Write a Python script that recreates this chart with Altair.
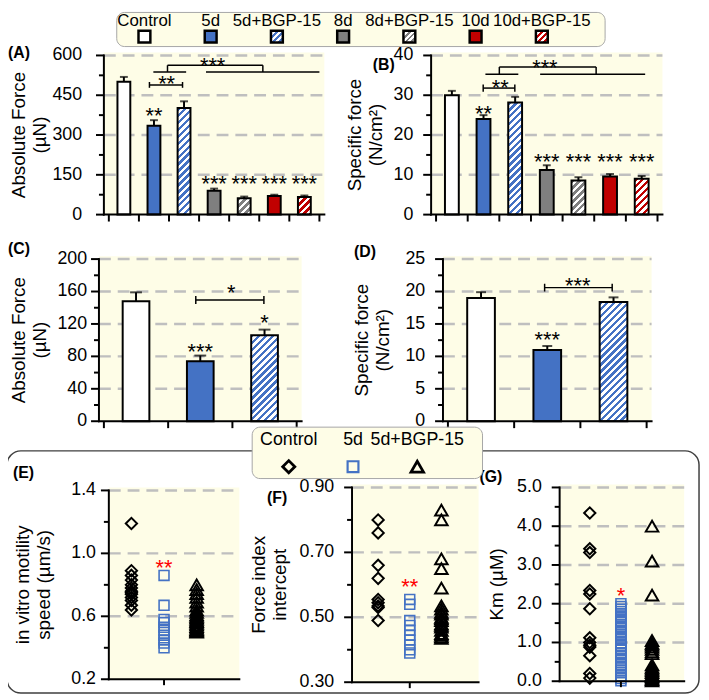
import math
import altair as alt
import pandas as pd

# ---------------- values ----------------
groups_7 = ["Control", "5d", "5d+BGP-15", "8d", "8d+BGP-15", "10d", "10d+BGP-15"]
abs_force_7 = [501, 335, 402, 90, 62, 70, 66]
abs_force_7_sem = [18, 21, 25, 8, 6, 5, 6]
spec_force_7 = [30.0, 24.0, 28.2, 11.2, 8.6, 9.6, 9.0]
spec_force_7_sem = [1.1, 1.0, 1.4, 1.2, 0.8, 0.6, 0.7]

groups_3 = ["Control", "5d", "5d+BGP-15"]
abs_force_3 = [148, 74, 106]
abs_force_3_sem = [11, 7, 7]
spec_force_3 = [19.0, 11.0, 18.4]
spec_force_3_sem = [0.9, 0.6, 0.7]

motility_control = [1.19, 0.89, 0.86, 0.83, 0.80, 0.78, 0.76, 0.75, 0.74, 0.72, 0.70, 0.67, 0.64]
motility_5d = [0.86, 0.67, 0.58, 0.56, 0.53, 0.51, 0.48, 0.45, 0.43, 0.40]
motility_bgp = [0.80, 0.77, 0.745, 0.72, 0.69, 0.665, 0.64, 0.625, 0.61, 0.60, 0.59, 0.58,
                0.57, 0.565, 0.555, 0.545, 0.535, 0.525, 0.515, 0.51, 0.505, 0.50]

force_index_control = [0.80, 0.76, 0.66, 0.62, 0.555, 0.545, 0.535, 0.53, 0.49]
force_index_5d = [0.555, 0.54, 0.49, 0.475, 0.46, 0.445, 0.43, 0.415, 0.40, 0.39]
force_index_bgp = [0.83, 0.80, 0.68, 0.65, 0.59, 0.535, 0.525, 0.515, 0.51, 0.50, 0.495,
                   0.49, 0.48, 0.475, 0.47, 0.46, 0.45, 0.445, 0.44, 0.435]

km_control = [4.34, 3.42, 3.32, 2.34, 2.25, 1.87, 1.12, 1.00, 0.93, 0.88, 0.66, 0.20, 0.08]
km_5d = [2.00, 1.93, 1.86, 1.80, 1.71, 1.64, 1.57, 1.51, 1.42, 1.36, 1.28, 1.21, 1.14, 1.07,
         0.99, 0.92, 0.85, 0.80, 0.71, 0.64, 0.57, 0.49, 0.43, 0.35, 0.28, 0.22, 0.14, 0.07, 0.01]
km_bgp = [4.00, 3.10, 2.22, 1.05, 0.98, 0.93, 0.88, 0.82, 0.76, 0.71, 0.42, 0.36, 0.31, 0.27,
          0.22, 0.17, 0.12, 0.08, 0.04, 0.01]

# significance labels above bars: (group, text, height of the star centre)
stars_A = [("5d", "**", 393), ("8d", "***", 136), ("8d+BGP-15", "***", 136),
           ("10d", "***", 136), ("10d+BGP-15", "***", 136)]
stars_B = [("5d", "**", 26.8), ("8d", "***", 14.8), ("8d+BGP-15", "***", 14.8),
           ("10d", "***", 14.8), ("10d+BGP-15", "***", 14.8)]
stars_C = [("5d", "***", 92), ("5d+BGP-15", "*", 128)]
stars_D = [("5d", "***", 13.5)]

# comparison brackets: (from, to, y from, y to), x in category slots (1 slot per group)
brackets_A = [(1.35, 2.45, 489, 489), (1.35, 1.35, 478, 500), (2.45, 2.45, 478, 500),
              (1.95, 5.12, 563, 563), (1.95, 1.95, 538, 563), (5.12, 5.12, 538, 563),
              (1.48, 2.57, 538, 538), (3.23, 7.0, 538, 538)]
bracket_text_A = [(1.92, 514, "**"), (3.45, 582, "***")]
brackets_B = [(1.49, 2.49, 31.8, 31.8), (1.49, 1.49, 30.9, 32.7), (2.49, 2.49, 30.9, 32.7),
              (2.0, 5.06, 37.1, 37.1), (2.0, 2.0, 35.3, 37.1), (5.06, 5.06, 35.3, 37.1),
              (1.56, 2.6, 35.3, 35.3), (3.29, 6.61, 35.3, 35.3)]
bracket_text_B = [(2.03, 33.3, "**"), (3.44, 38.4, "***")]
brackets_C = [(1.43, 2.49, 149.6, 149.6), (1.43, 1.43, 144.5, 154.5), (2.49, 2.49, 144.5, 154.5)]
bracket_text_C = [(1.98, 165, "*")]
brackets_D = [(1.46, 2.48, 20.6, 20.6), (1.46, 1.46, 20.0, 21.2), (2.48, 2.48, 20.0, 21.2)]
bracket_text_D = [(1.96, 21.8, "***")]

star_E = ("5d", "**", 0.945)
star_F = ("5d", "**", 0.61)
star_G = ("5d", "*", 2.36)

# ---------------- styling ----------------
FONT = "Liberation Sans"
BLUE = "#4472C4"
GRAY = "#7F7F7F"
RED = "#C00000"
CREAM = "#FEFDE7"
GRID = "#BFBFBF"
W, H = 701, 692
STAR_FS = 22
STAR_DY = 13
TITLE_LH = 21

fills_7 = ["white", BLUE, BLUE, GRAY, GRAY, RED, RED]
hatch_7 = [False, False, True, False, True, False, True]
fills_3 = ["white", BLUE, BLUE]
hatch_3 = [False, False, True]


def px(v):
    """reference page pixel -> chart pixel (page has an 8px margin)"""
    return v - 8


def hatch(color, w, h, period=7.0):
    L = w + h
    k = L / (w * w + h * h)
    stops = []
    pos = 0.0
    while pos < L - 1e-9:
        a = round(pos / L, 5)
        b = round(min((pos + period / 2) / L, 1.0), 5)
        c = round(min((pos + period) / L, 1.0), 5)
        stops += [alt.GradientStop(offset=a, color=color), alt.GradientStop(offset=b, color=color),
                  alt.GradientStop(offset=b, color="white"), alt.GradientStop(offset=c, color="white")]
        pos += period
    return alt.LinearGradient(gradient="linear", stops=stops, x1=0, y1=0,
                              x2=round(k * w, 5), y2=round(k * h, 5))


def one(**kw):
    return pd.DataFrame({"k": [0], **{a: [b] for a, b in kw.items()}})


def y_axis_layers(x0, yt, yb, ysc, majors, minors, fmt, title, title_edge, label_gap):
    ax = px(x0)

    def Yf(f):
        return alt.Y(f, type="quantitative", scale=ysc, axis=None)

    maj = alt.Chart(pd.DataFrame({"v": majors})).mark_rule(color="black", strokeWidth=2).encode(
        x=alt.value(ax - 8), x2=alt.value(ax), y=Yf("v"))
    mnr = alt.Chart(pd.DataFrame({"v": minors})).mark_rule(color="black", strokeWidth=2).encode(
        x=alt.value(ax - 5), x2=alt.value(ax), y=Yf("v"))
    labels = alt.Chart(pd.DataFrame({"v": majors})).mark_text(
        align="right", baseline="middle", fontSize=18, color="black").encode(
        x=alt.value(ax - label_gap), y=Yf("v"), text=alt.Text("v:Q", format=fmt))
    dom = alt.Chart(one()).mark_rule(color="black", strokeWidth=2, strokeCap="square").encode(
        x=alt.value(ax), y=alt.value(px(yt)), y2=alt.value(px(yb)))
    lines = title if isinstance(title, list) else [title]
    ttl = alt.Chart(one()).mark_text(angle=270, fontSize=19, lineHeight=TITLE_LH,
                                     baseline="bottom", align="center", color="black",
                                     text=lines).encode(
        x=alt.value(px(title_edge) - TITLE_LH * (len(lines) - 1)),
        y=alt.value(px((yt + yb) / 2)))
    return [maj, mnr, labels, dom, ttl]


def x_domain(x0, x1, yb):
    return alt.Chart(one()).mark_rule(color="black", strokeWidth=2, strokeCap="square").encode(
        x=alt.value(px(x0)), x2=alt.value(px(x1)), y=alt.value(px(yb)))


def decor(x0, x1, yt, yb, ysc, grid_vals, tag, tag_pos):
    bg = alt.Chart(one()).mark_rect(fill=CREAM).encode(
        x=alt.value(px(x0)), x2=alt.value(px(x1)), y=alt.value(px(yt) - 3), y2=alt.value(px(yb)))
    grid = alt.Chart(pd.DataFrame({"g": grid_vals})).mark_rule(
        stroke=GRID, strokeWidth=2.5, strokeDash=[12, 7]).encode(
        x=alt.value(px(x0)), x2=alt.value(px(x1)),
        y=alt.Y("g:Q", scale=ysc, axis=None))
    lab = alt.Chart(one(t=tag)).mark_text(
        fontWeight="bold", fontSize=16, align="left", baseline="middle", color="black").encode(
        x=alt.value(tag_pos[0]), y=alt.value(tag_pos[1]), text="t:N")
    return bg, grid, lab


def bar_panel(cats, vals, sems, fills, hatched, geo, ymax, majors, minors, grid_vals,
              title, title_edge, label_gap, bar_w, cap_w, stars, segs, seg_text, tag, tag_pos):
    x0, x1, yt, yb = geo
    n = len(cats)
    xsc = alt.Scale(domain=[0, n], range=[px(x0), px(x1)], nice=False, zero=False)
    ysc = alt.Scale(domain=[0, ymax], range=[px(yb), px(yt)], nice=False, zero=False)
    slot = {c: i + 0.5 for i, c in enumerate(cats)}
    df = pd.DataFrame({"group": cats, "slot": [slot[c] for c in cats], "value": vals,
                       "top": [v + e for v, e in zip(vals, sems)], "fill": fills, "hatched": hatched})

    def X(f):
        return alt.X(f, type="quantitative", scale=xsc, axis=None)

    def Y(f):
        return alt.Y(f, type="quantitative", scale=ysc, axis=None)

    bg, grid, lab = decor(x0, x1, yt, yb, ysc, grid_vals, tag, tag_pos)
    layers = [bg, grid]
    layers.append(alt.Chart(df[~df.hatched]).mark_bar(
        size=bar_w, orient="vertical", stroke="black", strokeWidth=2).encode(
        x=X("slot"), y=Y("value"), fill=alt.Fill("fill:N", scale=None)))
    ppu = (yb - yt) / ymax
    for _, r in df[df.hatched].iterrows():
        layers.append(alt.Chart(pd.DataFrame([r])).mark_bar(
            size=bar_w, orient="vertical", stroke="black", strokeWidth=2,
            fill=hatch(r["fill"], bar_w, r["value"] * ppu)).encode(x=X("slot"), y=Y("value")))
    layers.append(alt.Chart(df).mark_rule(color="black", strokeWidth=2).encode(
        x=X("slot"), y=Y("value"), y2="top:Q"))
    layers.append(alt.Chart(df).mark_tick(orient="horizontal", size=cap_w, thickness=2,
                                          color="black").encode(x=X("slot"), y=Y("top")))
    sdf = pd.DataFrame({"slot": [slot[g] for g, _, _ in stars], "t": [t for _, t, _ in stars],
                        "y": [y for _, _, y in stars]})
    layers.append(alt.Chart(sdf).mark_text(fontSize=STAR_FS, baseline="alphabetic", dy=STAR_DY,
                                           color="black").encode(x=X("slot"), y=Y("y"), text="t:N"))
    bdf = pd.DataFrame(segs, columns=["a", "b", "c", "d"])
    layers.append(alt.Chart(bdf).mark_rule(color="black", strokeWidth=1.5).encode(
        x=X("a"), x2="b:Q", y=Y("c"), y2="d:Q"))
    tdf = pd.DataFrame(seg_text, columns=["a", "y", "t"])
    layers.append(alt.Chart(tdf).mark_text(fontSize=STAR_FS, baseline="alphabetic", dy=STAR_DY,
                                           color="black").encode(x=X("a"), y=Y("y"), text="t:N"))
    # axes
    layers += y_axis_layers(x0, yt, yb, ysc, majors, minors, "d", title, title_edge, label_gap)
    layers.append(alt.Chart(pd.DataFrame({"t": list(range(n + 1))})).mark_rule(
        color="black", strokeWidth=2).encode(x=X("t"), y=alt.value(px(yb)),
                                             y2=alt.value(px(yb) + 7)))
    layers.append(x_domain(x0, x1, yb))
    layers.append(lab)
    return alt.layer(*layers)


def scatter_panel(series, geo, ydom, majors, minors, grid_vals, fmt, title, title_edge,
                  label_gap, xpad, xalign, star, tag, tag_pos):
    x0, x1, yt, yb = geo
    xsc = alt.Scale(type="point", domain=groups_3, range=[px(x0), px(x1)], padding=xpad,
                    align=xalign)
    ysc = alt.Scale(domain=ydom, range=[px(yb), px(yt)], nice=False, zero=False)

    def X(f):
        return alt.X(f, type="nominal", scale=xsc, axis=None)

    def Y(f):
        return alt.Y(f, type="quantitative", scale=ysc, axis=None)

    bg, grid, lab = decor(x0, x1, yt, yb, ysc, grid_vals, tag, tag_pos)
    layers = [bg, grid]
    for g, vals, shape, size, color, sw in series:
        d = pd.DataFrame({"g": [g] * len(vals), "v": vals})
        layers.append(alt.Chart(d).mark_point(shape=shape, size=size, filled=False, color=color,
                                              strokeWidth=sw, opacity=1).encode(
            x=X("g"), y=Y("v")))
    sd = pd.DataFrame({"g": [star[0]], "t": [star[1]], "v": [star[2]]})
    layers.append(alt.Chart(sd).mark_text(fontSize=STAR_FS, baseline="alphabetic", dy=STAR_DY,
                                          color="#FF0000").encode(x=X("g"), y=Y("v"), text="t:N"))
    layers += y_axis_layers(x0, yt, yb, ysc, majors, minors, fmt, title, title_edge, label_gap)
    layers.append(alt.Chart(pd.DataFrame({"g": ["5d"]})).mark_rule(
        color="black", strokeWidth=2).encode(x=X("g"), y=alt.value(px(yb)),
                                             y2=alt.value(px(yb) + 6)))
    layers.append(x_domain(x0, x1, yb))
    layers.append(lab)
    return alt.layer(*layers)


panel_A = bar_panel(groups_7, abs_force_7, abs_force_7_sem, fills_7, hatch_7,
                    (105, 328, 52, 213), 600, [0, 150, 300, 450, 600], [75, 225, 375, 525],
                    [150, 300, 450, 600], ["Absolute Force", "(µN)"], 50, 22, 13, 8,
                    stars_A, brackets_A, bracket_text_A, "(A)", (0, 42))
panel_B = bar_panel(groups_7, spec_force_7, spec_force_7_sem, fills_7, hatch_7,
                    (436, 670, 52, 213), 40, [0, 10, 20, 30, 40], [5, 15, 25, 35],
                    [10, 20, 30, 40], ["Specific force", "(N/cm²)"], 390, 18, 14, 8,
                    stars_B, brackets_B, bracket_text_B, "(B)", (369, 54))
panel_C = bar_panel(groups_3, abs_force_3, abs_force_3_sem, fills_3, hatch_3,
                    (100, 305, 258, 422), 200, [0, 40, 80, 120, 160, 200],
                    [20, 60, 100, 140, 180], [40, 80, 120, 160, 200],
                    ["Absolute Force", "(µN)"], 50, 12, 27, 12,
                    stars_C, brackets_C, bracket_text_C, "(C)", (0, 240))
panel_D = bar_panel(groups_3, spec_force_3, spec_force_3_sem, fills_3, hatch_3,
                    (448, 659, 258, 422), 25, [0, 5, 10, 15, 20, 25],
                    [2.5, 7.5, 12.5, 17.5, 22.5], [5, 10, 15, 20, 25],
                    ["Specific force", "(N/cm²)"], 397, 18, 28, 10,
                    stars_D, brackets_D, bracket_text_D, "(D)", (350, 243))


def series(c, d5, bgp):
    return [("Control", c, "diamond", 130, "black", 2),
            ("5d", d5, "square", 100, BLUE, 1.6),
            ("5d+BGP-15", bgp, "triangle-up", 160, "black", 2)]


panel_E = scatter_panel(series(motility_control, motility_5d, motility_bgp),
                        (110, 242, 492, 683), [0.2, 1.4], [0.2, 0.6, 1.0, 1.4], [0.4, 0.8, 1.2],
                        [0.6, 1.0, 1.4], ".1f", ["in vitro motility", "speed (µm/s)"], 54, 13,
                        1.588, 0.346, star_E, "(E)", (5, 466))
panel_F = scatter_panel(series(force_index_control, force_index_5d, force_index_bgp),
                        (356, 484, 489, 686), [0.3, 0.9], [0.3, 0.5, 0.7, 0.9], [0.4, 0.6, 0.8],
                        [0.5, 0.7, 0.9], ".2f", ["Force index", "intercept"], 293, 18,
                        1.218, 0.4125, star_F, "(F)", (262, 492))
panel_G = scatter_panel(series(km_control, km_5d, km_bgp),
                        (566, 692, 489, 685), [0, 5], [0, 1, 2, 3, 4, 5],
                        [0.5, 1.5, 2.5, 3.5, 4.5], [1, 2, 3, 4, 5], ".1f", "Km (µM)", 513, 18,
                        1.032, 0.484, star_G, "(G)", (477, 470))

# frame around E-G
frame = alt.Chart(one()).mark_rect(fill=None, stroke="#3F3F3F", strokeWidth=1.5,
                                   cornerRadius=14).encode(
    x=alt.value(px(7)), x2=alt.value(px(707)), y=alt.value(px(452)), y2=alt.value(px(697)))

# top legend
lx7 = alt.Scale(type="point", domain=groups_7, range=[px(146), px(548)], padding=0)
leg7_box = alt.Chart(one()).mark_rect(fill=CREAM, stroke="#A6A6A6", strokeWidth=1,
                                      cornerRadius=8).encode(
    x=alt.value(px(118)), x2=alt.value(px(612)), y=alt.value(0.5), y2=alt.value(px(43)))
leg7_df = pd.DataFrame({"g": groups_7, "fill": fills_7, "hatched": hatch_7})
leg7_layers = [leg7_box,
               alt.Chart(leg7_df).mark_text(fontSize=17, baseline="middle", color="black").encode(
                   x=alt.X("g:N", scale=lx7, axis=None), y=alt.value(px(17)), text="g:N"),
               alt.Chart(leg7_df[~leg7_df.hatched]).mark_point(
                   shape="square", size=144, filled=True, stroke="black", strokeWidth=2.5,
                   opacity=1).encode(x=alt.X("g:N", scale=lx7, axis=None), y=alt.value(px(33)),
                                     fill=alt.Fill("fill:N", scale=None))]
for _, r in leg7_df[leg7_df.hatched].iterrows():
    leg7_layers.append(alt.Chart(pd.DataFrame([r])).mark_point(
        shape="square", size=144, filled=True, stroke="black", strokeWidth=2.5, opacity=1,
        fill=hatch(r["fill"], 12, 12, 6.0)).encode(
        x=alt.X("g:N", scale=lx7, axis=None), y=alt.value(px(33))))
legend_top = alt.layer(*leg7_layers)

# bottom legend
lx3 = alt.Scale(type="point", domain=groups_3, range=[px(292), px(422)], padding=0)
leg3_box = alt.Chart(one()).mark_rect(fill=CREAM, stroke="#A6A6A6", strokeWidth=1,
                                      cornerRadius=8).encode(
    x=alt.value(px(255)), x2=alt.value(px(488)), y=alt.value(px(428)), y2=alt.value(px(480)))
leg3_layers = [leg3_box,
               alt.Chart(pd.DataFrame({"g": groups_3})).mark_text(
                   fontSize=18, baseline="middle", color="black").encode(
                   x=alt.X("g:N", scale=lx3, axis=None), y=alt.value(px(441)), text="g:N")]
for g, shape, size, color, sw in [("Control", "diamond", 150, "black", 2.8),
                                  ("5d", "square", 120, BLUE, 2.2),
                                  ("5d+BGP-15", "triangle-up", 160, "black", 2.8)]:
    leg3_layers.append(alt.Chart(pd.DataFrame({"g": [g]})).mark_point(
        shape=shape, size=size, filled=False, color=color, strokeWidth=sw, opacity=1).encode(
        x=alt.X("g:N", scale=lx3, axis=None), y=alt.value(px(468))))
legend_bottom = alt.layer(*leg3_layers)

chart = alt.layer(
    panel_A, panel_B, panel_C, panel_D, frame, panel_E, panel_F, panel_G,
    legend_bottom, legend_top
).resolve_scale(x="independent", y="independent").properties(
    width=W, height=H, autosize=alt.AutoSizeParams(type="none"), padding=0
).configure(font=FONT).configure_view(stroke=None)

chart.save("out.html", embed_options={"renderer": "svg", "actions": False})
